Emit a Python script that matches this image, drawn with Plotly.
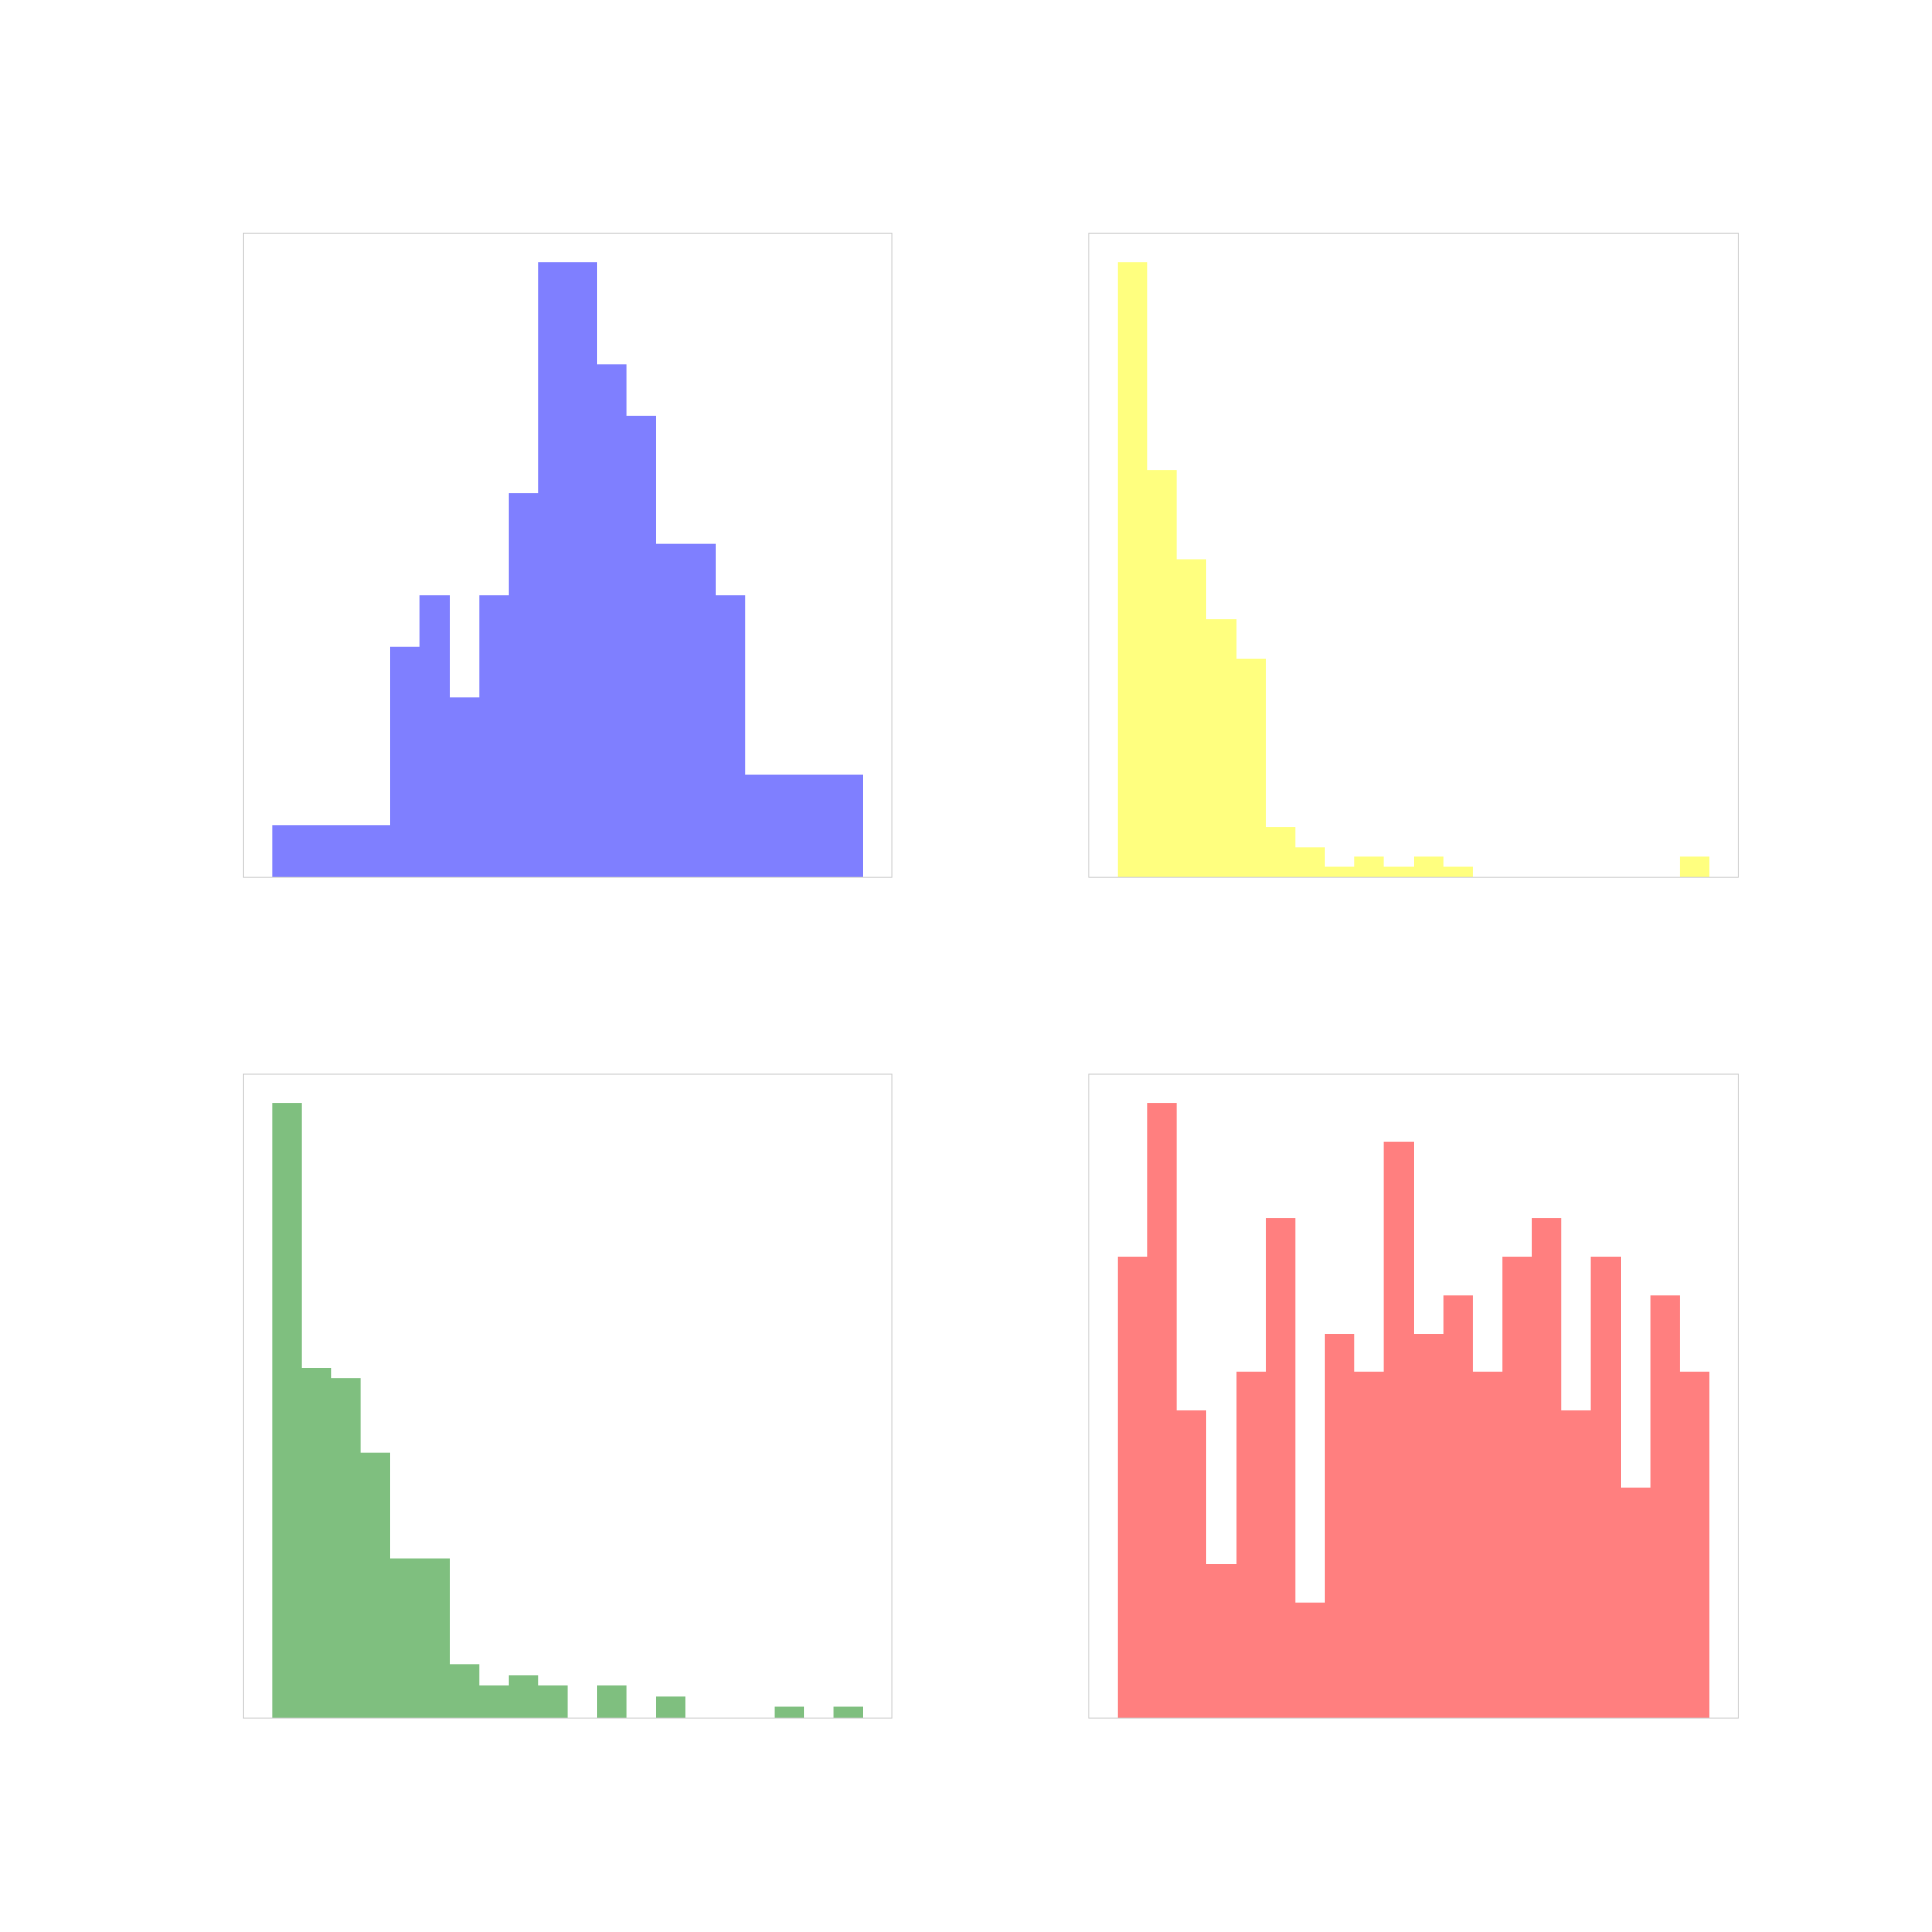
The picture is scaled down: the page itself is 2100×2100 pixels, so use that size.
import numpy as np
import plotly.graph_objects as go

# Histogram counts per bin (20 equal-width bins per panel)
blue_counts = [2, 2, 2, 2, 9, 11, 7, 11, 15, 24, 24, 20, 18, 13, 13, 11, 4, 4, 4, 4]
yellow_counts = [62, 41, 32, 26, 22, 5, 3, 1, 2, 1, 2, 1, 0, 0, 0, 0, 0, 0, 0, 2]
green_counts = [58, 33, 32, 25, 15, 15, 5, 3, 4, 3, 0, 3, 0, 2, 0, 0, 0, 1, 0, 1]
red_counts = [12, 16, 8, 4, 9, 13, 3, 10, 9, 15, 10, 11, 9, 12, 13, 8, 12, 6, 11, 9]

panels = [
    (blue_counts, "rgba(0,0,255,0.5)"),
    (yellow_counts, "rgba(255,255,0,0.5)"),
    (green_counts, "rgba(0,128,0,0.5)"),
    (red_counts, "rgba(255,0,0,0.5)"),
]

W = 2100
x_doms = [[265 / W, 969 / W], [1184 / W, 1889 / W]]
y_doms = [[1 - 953 / W, 1 - 254 / W], [1 - 1867 / W, 1 - 1168 / W]]

fig = go.Figure()
layout = dict(
    width=2100, height=2100,
    margin=dict(l=0, r=0, t=0, b=0),
    paper_bgcolor="white", plot_bgcolor="white",
    showlegend=False, bargap=0,
)

for i, (counts, color) in enumerate(panels):
    row, col = divmod(i, 2)
    n = len(counts)
    centers = np.arange(n) + 0.5
    suffix = "" if i == 0 else str(i + 1)
    fig.add_trace(go.Bar(
        x=centers, y=counts, width=1.0,
        marker=dict(color=color, line=dict(width=0)),
        xaxis="x" + suffix, yaxis="y" + suffix,
        hoverinfo="skip",
    ))
    axis_common = dict(showline=True, mirror=True, linecolor="rgb(204,204,204)", linewidth=1,
                       showgrid=False, zeroline=False, showticklabels=False, ticks="")
    layout["xaxis" + suffix] = dict(domain=x_doms[col], range=[-0.965, n + 0.965],
                                    anchor="y" + suffix, **axis_common)
    layout["yaxis" + suffix] = dict(domain=y_doms[row], range=[0, max(counts) * 1.0464],
                                    anchor="x" + suffix, **axis_common)

fig.update_layout(**layout)
fig.write_html("out.html")
